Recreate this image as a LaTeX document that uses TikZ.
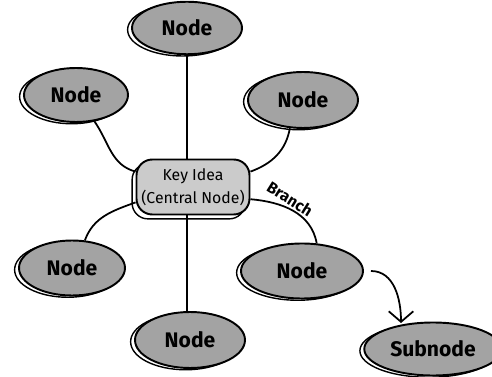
\documentclass[tikz,border=0pt]{standalone}
\usepackage{fontspec}
\setmainfont{Fira Sans}
\usetikzlibrary{shapes.geometric,arrows.meta}

\definecolor{blobgray}{HTML}{A3A3A3}
\definecolor{keygray}{HTML}{CBCBCB}

\tikzset{
  blob/.style={ellipse, draw=black, line width=1.1pt, fill=blobgray,
    minimum width=2.2cm, minimum height=1.05cm, font=\large\bfseries,
    preaction={draw=black, line width=0.8pt,
      transform canvas={shift={(-2.5pt,-1pt)}}}},
  keybox/.style={rectangle, rounded corners=9pt, draw=black, line width=1.1pt,
    fill=keygray, minimum width=2.26cm, minimum height=1.1cm, align=center,
    inner sep=2pt, font=\small,
    preaction={draw=black, line width=0.8pt,
      transform canvas={shift={(-2.5pt,-2.5pt)}}}},
  link/.style={line width=1pt}
}

\begin{document}
\begin{tikzpicture}[x=0.02cm, y=-0.02cm]

  % Fix the frame
  \useasboundingbox (0,0) rectangle (492,377);

  % Draw the central idea
  \node[keybox] (key) at (193,187) {Key Idea\\[2pt](Central Node)};

  % Draw the nodes around it
  \node[blob] (top) at (187,28) {Node};
  \node[blob, minimum width=2.08cm, minimum height=1.08cm] (upleft) at (76,95) {Node};
  \node[blob, minimum height=1.12cm] (upright) at (303,100) {Node};
  \node[blob, minimum width=2.12cm, minimum height=1.1cm] (lowleft) at (72,268) {Node};
  \node[blob, minimum height=1.12cm] (bottom) at (190,340) {Node};
  \node[blob, minimum width=2.44cm, minimum height=1.1cm] (lowright) at (302,271) {Node};
  \node[blob, minimum width=2.3cm, minimum height=1.06cm] (sub) at (433,349) {Subnode};

  % Draw the links
  \draw[link] (top.south) -- (top.south |- key.north);
  \draw[link] (upleft.-55) to[out=-55,in=165] (key.165);
  \draw[link] (upright.-115) to[out=-100,in=20] (key.15);
  \draw[link] (key.195) to[out=200,in=70] (lowleft.65);
  \draw[link] (bottom.north -| top.south) -- (key.south -| top.south);
  \draw[link] (key.-12) to[out=-5,in=100] (lowright.62);

  % Label of the branch
  \node[rotate=-32, font=\small\bfseries] (branch) at (290,199) {Branch};

  % Draw the arrow to the subnode
  \coordinate (arrstart) at ([xshift=0.14cm]lowright.east);
  \coordinate (arrend) at (401,323);
  \draw[link, -{Straight Barb[length=6pt,width=14pt]}]
    (arrstart) to[out=0,in=90] (arrend);

\end{tikzpicture}
\end{document}
